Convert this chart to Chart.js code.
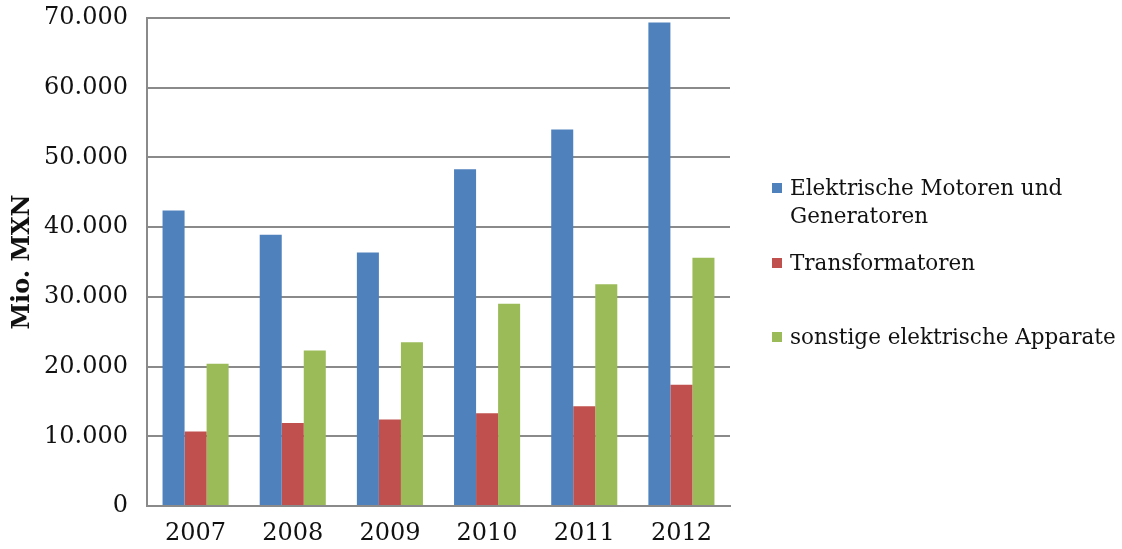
<!DOCTYPE html>
<html>
<head>
<meta charset="utf-8">
<script src="https://cdn.jsdelivr.net/npm/chart.js@4.4.0/dist/chart.umd.min.js"></script>
<style>
	html, body { margin: 0; padding: 0; background: #fff; }
	#wrap { position: relative; width: 1122px; height: 549px; }
	#legend { position: absolute; left: 772px; top: 0; font-family: "DejaVu Serif", serif; font-size: 21.5px; color: #111; }
	.item { position: absolute; left: 0; white-space: nowrap; line-height: 28px; }
	.box { position: absolute; left: 0; top: 9px; width: 10px; height: 10px; }
	.txt { margin-left: 18px; }
</style>
</head>
<body>
<div id="wrap">
	<canvas id="chart" width="1122" height="549"></canvas>
	<div id="legend"></div>
</div>
<script>
	"use strict";
	const years = ["2007", "2008", "2009", "2010", "2011", "2012"];
	const motoren = [42400, 38900, 36350, 48300, 54000, 69350];
	const transformatoren = [10700, 11900, 12400, 13300, 14300, 17400];
	const sonstige = [20400, 22300, 23500, 29000, 31800, 35600];
	const seriesNames = [["Elektrische Motoren und", "Generatoren"], ["Transformatoren"], ["sonstige elektrische Apparate"]];
	const colors = ["#4F81BD", "#C0504D", "#9BBB59"];
	const yTicks = [0, 10000, 20000, 30000, 40000, 50000, 60000, 70000];

	const gridColor = "#8a8a8a";
	const serif = "'DejaVu Serif', serif";

	const ctx = document.getElementById("chart");
	const chart = new Chart(ctx, {
		type: "bar",
		data: {
			labels: years,
			datasets: [motoren, transformatoren, sonstige].map(function (values, i) {
				return {
					label: seriesNames[i].join(" "),
					data: values,
					backgroundColor: colors[i],
					barPercentage: 1,
					categoryPercentage: 0.68
				};
			})
		},
		options: {
			responsive: false,
			animation: false,
			devicePixelRatio: 1,
			layout: {
				padding: { top: 18, right: 392, left: 0, bottom: 0 }
			},
			scales: {
				x: {
					grid: { display: false, drawTicks: false },
					border: { color: gridColor, width: 2 },
					ticks: {
						color: "#111",
						font: { family: serif, size: 24 },
						padding: 13
					},
					afterFit: function (scale) {
						scale.height = 43;
						scale.paddingLeft = 0;
						scale.paddingRight = 0;
					}
				},
				y: {
					min: 0,
					max: 70000,
					afterBuildTicks: function (scale) {
						scale.ticks = yTicks.map(function (v) { return { value: v }; });
					},
					grid: { color: gridColor, lineWidth: 2, drawTicks: false },
					border: { color: gridColor, width: 2 },
					ticks: {
						color: "#111",
						font: { family: serif, size: 24 },
						padding: 19,
						callback: function (v) {
							return v === 0 ? "0" : v.toLocaleString("de-DE");
						}
					},
					title: {
						display: true,
						text: "Mio. MXN",
						color: "#111",
						font: { family: serif, size: 24, weight: "bold" },
						padding: { top: 8, bottom: 0 }
					},
					afterFit: function (scale) {
						scale.width = 147;
						scale.paddingTop = 0;
						scale.paddingBottom = 0;
					}
				}
			},
			plugins: {
				legend: { display: false },
				tooltip: { enabled: false }
			}
		}
	});

	// legend on the right, with a wrapped first entry
	const legendTops = [174, 249, 323];
	const legend = document.getElementById("legend");
	seriesNames.forEach(function (lines, i) {
		const item = document.createElement("div");
		item.className = "item";
		item.style.top = legendTops[i] + "px";
		const box = document.createElement("div");
		box.className = "box";
		box.style.background = colors[i];
		item.appendChild(box);
		lines.forEach(function (line) {
			const t = document.createElement("div");
			t.className = "txt";
			t.textContent = line;
			item.appendChild(t);
		});
		legend.appendChild(item);
	});
</script>
</body>
</html>
